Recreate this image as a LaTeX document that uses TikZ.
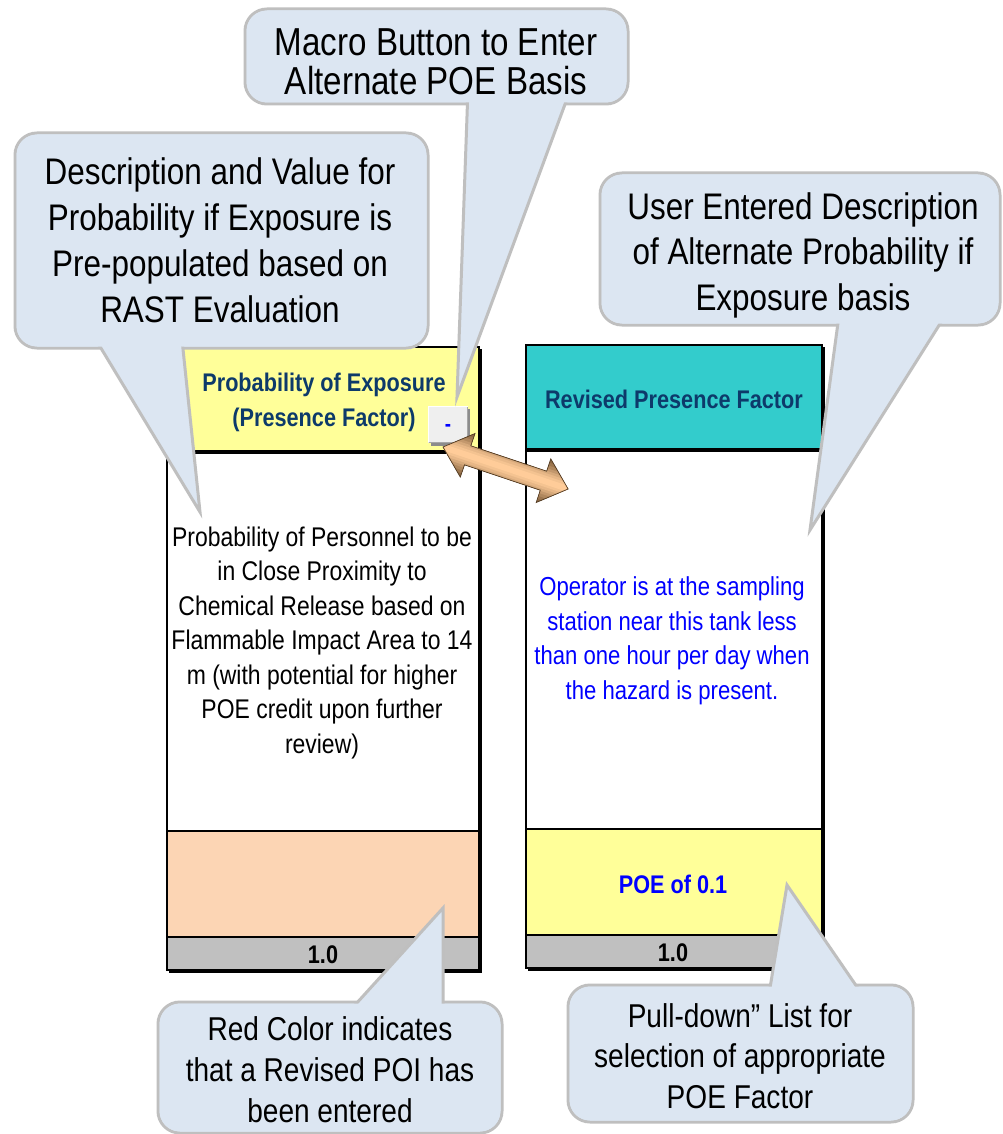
\documentclass[tikz,border=0pt]{standalone}
\usepackage{fontspec}
\setmainfont[FakeStretch=0.85]{Liberation Sans}
\usetikzlibrary{calc}
\definecolor{cfill}{HTML}{DCE6F2}
\definecolor{cline}{HTML}{BFBFBF}
\definecolor{hyellow}{HTML}{FFFF99}
\definecolor{hcyan}{HTML}{33CCCC}
\definecolor{peach}{HTML}{FCD5B4}
\definecolor{cellgray}{HTML}{C0C0C0}
\definecolor{navy}{HTML}{0D3A6A}
\definecolor{txtblue}{HTML}{0000FF}
\definecolor{brownD}{HTML}{775634}
\definecolor{brownL}{HTML}{FFCC99}
\definecolor{btnface}{HTML}{EFEFEF}
\newcommand{\fsz}[2]{\fontsize{#1}{#2}\selectfont}
\tikzset{
  cbox/.style={fill=cfill, draw=cline, line width=3, rounded corners=22},
  ctail/.style={fill=cfill, draw=cline, line width=3, line join=miter},
  cinner/.style={fill=cfill, rounded corners=20.5},
  ctext/.style={align=center, inner sep=0, text=black},
  celltext/.style={align=center, inner sep=0},
  hdrtext/.style={align=center, inner sep=0, text=navy, font=\fsz{25.5}{35}\bfseries},
  border/.style={draw=black, line width=2},
}
\begin{document}
\begin{tikzpicture}[x=1pt,y=-1pt]
\useasboundingbox (0,0) rectangle (1002,1134);
\fill[white] (0,0) rectangle (1002,1134);

% ---------- left column ----------
\fill[hyellow] (167,347) rectangle (479,452);
\fill[white] (167,452) rectangle (479,831);
\fill[peach] (167,831) rectangle (479,937);
\fill[cellgray] (167,937) rectangle (479,970);
\draw[black, line width=2] (481,349) -- (481,972) -- (169,972);
\draw[border] (167,347) rectangle (479,970);
\draw[black, line width=3.5] (167,452) -- (479,452);
\draw[border] (167,831) -- (479,831);
\draw[border] (167,937) -- (479,937);

% ---------- right column ----------
\fill[hcyan] (526,345) rectangle (822,450);
\fill[white] (526,450) rectangle (822,829);
\fill[hyellow] (526,829) rectangle (822,935);
\fill[cellgray] (526,935) rectangle (822,968);
\draw[black, line width=2] (824,347) -- (824,970) -- (528,970);
\draw[border] (526,345) rectangle (822,968);
\draw[black, line width=3.5] (526,450) -- (822,450);
\draw[border] (526,829) -- (822,829);
\draw[border] (526,935) -- (822,935);

% ---------- cell texts ----------
\node[hdrtext] (lhdr) at (324,402) {Probability of Exposure\\(Presence Factor)};
\node[hdrtext] (rhdr) at (674,399) {Revised Presence Factor};
\node[celltext, font=\fsz{27}{34.5}] (lbody) at (322,643)
  {Probability of Personnel to be\\in Close Proximity to\\Chemical Release based on\\Flammable Impact Area to 14\\m (with potential for higher\\POE credit upon further\\review)};
\node[celltext, text=txtblue, font=\fsz{26}{34.5}] (rbody) at (672,641)
  {Operator is at the sampling\\station near this tank less\\than one hour per day when\\the hazard is present.};
\node[celltext, text=txtblue, font=\fsz{25.5}{30}\bfseries] (poe) at (673,884) {POE of 0.1};
\node[celltext, font=\fsz{25.5}{30}\bfseries] (lval) at (323,955) {1.0};
\node[celltext, font=\fsz{25.5}{30}\bfseries] (rval) at (673,953) {1.0};

% ---------- macro button ----------
\fill[black!45] (431,409) rectangle (470,446);
\fill[btnface] (428,406) rectangle (468,443);
\draw[white, line width=1.5] (428.5,442) -- (428.5,406.5) -- (467.5,406.5);
\draw[black!35, line width=1] (428.5,442.5) -- (467.5,442.5) -- (467.5,406.5);
\node[celltext, text=txtblue, font=\fsz{22}{22}\bfseries] (btn) at (448,428) {-};

% ---------- callout: left ----------
\path[cbox] (15,133) rectangle (428,348);
\path[ctail] (90,330) -- (200,512) -- (181,330) -- cycle;
\path[cinner] (16.5,134.5) rectangle (426.5,346.5);
\node[ctext, font=\fsz{37}{46}] (cdesc) at (220,240)
  {Description and Value for\\Probability if Exposure is\\Pre-populated based on\\RAST Evaluation};

% ---------- callout: top ----------
\path[cbox] (245,9) rectangle (628,104);
\path[ctail] (468,88) -- (457,397) -- (571,88) -- cycle;
\path[cinner] (246.5,10.5) rectangle (626.5,102.5);
\node[ctext, font=\fsz{39}{39}] (cmacro) at (436,62)
  {Macro Button to Enter\\Alternate POE Basis};

% ---------- callout: right ----------
\path[cbox] (600,173) rectangle (1000,325);
\path[ctail] (840,308) -- (810,530) -- (950,308) -- cycle;
\path[cinner] (601.5,174.5) rectangle (998.5,323.5);
\node[ctext, font=\fsz{37}{45.5}] (cuser) at (803,255)
  {User Entered Description\\of Alternate Probability if\\Exposure basis};

% ---------- callout: bottom left ----------
\path[cbox] (158,1002) rectangle (502,1133);
\path[ctail] (345,1016) -- (443,908) -- (443,1016) -- cycle;
\path[cinner] (159.5,1003.5) rectangle (500.5,1131.5);
\node[ctext, font=\fsz{33}{41}] (cred) at (330,1070)
  {Red Color indicates\\that a Revised POI has\\been entered};

% ---------- callout: bottom right ----------
\path[cbox] (568,985) rectangle (913,1122);
\path[ctail] (768,1000) -- (787,885) -- (866,1000) -- cycle;
\path[cinner] (569.5,986.5) rectangle (911.5,1120.5);
\node[ctext, font=\fsz{33}{40.5}] (cpull) at (740,1056)
  {Pull-down” List for\\selection of appropriate\\POE Factor};

% ---------- double arrow ----------
\coordinate (ta) at (443,447);
\coordinate (tb) at (568.1,489.0);
\begin{scope}
  \clip (443,447) -- (460.3,477.1) -- (464.5,464.8) -- (540.3,490.2) -- (536.2,502.5)
    -- (568.1,489.0) -- (550.8,458.9) -- (546.7,471.2) -- (470.8,445.8) -- (475.0,433.5) -- cycle;
  \fill[brownD] (430,420) rectangle (580,510);
  \foreach \w/\c in {44/15,38/28,32/42,26/56,21/70,16/82,11/92,6/100}
    \draw[line width=\w, brownL!\c!brownD, line cap=butt] ($(ta)!-0.2!(tb)$) -- ($(ta)!1.2!(tb)$);
\end{scope}
\draw[brownD!70!black, line width=0.7, line join=miter]
  (443,447) -- (460.3,477.1) -- (464.5,464.8) -- (540.3,490.2) -- (536.2,502.5)
    -- (568.1,489.0) -- (550.8,458.9) -- (546.7,471.2) -- (470.8,445.8) -- (475.0,433.5) -- cycle;
\end{tikzpicture}
\end{document}
